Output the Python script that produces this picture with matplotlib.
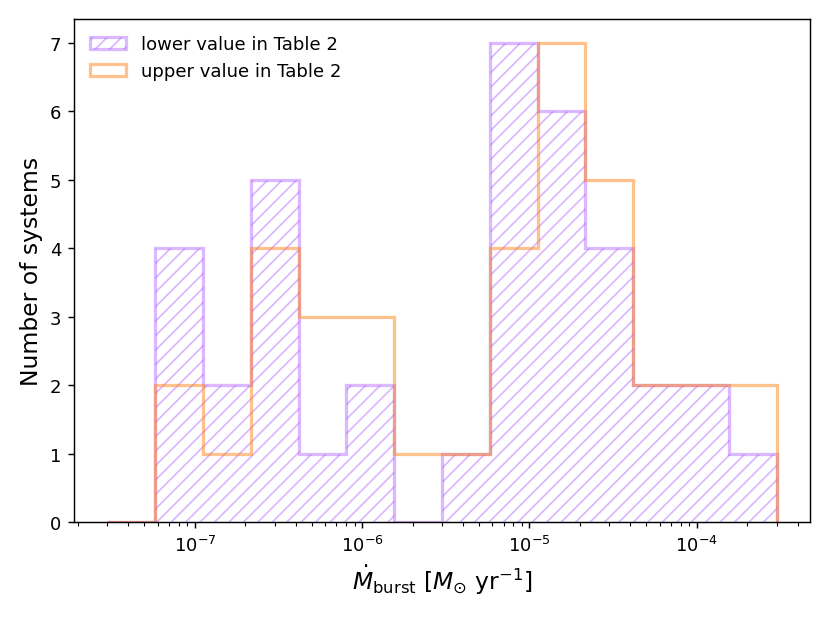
import matplotlib
matplotlib.use('Agg')
import matplotlib.pyplot as plt
import numpy as np

# log-spaced bin edges of the accretion rate histogram
bin_edges = [3.0e-8, 5.8e-8, 1.12e-7, 2.16e-7, 4.17e-7, 8.05e-7, 1.55e-6, 3.0e-6,
             5.8e-6, 1.12e-5, 2.16e-5, 4.17e-5, 8.05e-5, 1.55e-4, 3.0e-4]

# number of systems in each bin
lower_counts = [0, 4, 2, 5, 1, 2, 0, 1, 7, 6, 4, 2, 2, 1]
upper_counts = [0, 2, 1, 4, 3, 3, 1, 1, 4, 7, 5, 2, 2, 2]

edges = np.array(bin_edges)
centers = np.sqrt(edges[:-1] * edges[1:])

fig, ax = plt.subplots(figsize=(6.385, 4.792), dpi=130)
fig.subplots_adjust(left=0.089, right=0.976, top=0.968, bottom=0.1605)

ax.hist(centers, bins=edges, weights=lower_counts, histtype='step', hatch='///',
        color='#9933ff', alpha=0.34, linewidth=1.8, label='lower value in Table 2')
ax.hist(centers, bins=edges, weights=upper_counts, histtype='step',
        color='#ff7f0e', alpha=0.47, linewidth=1.8, label='upper value in Table 2')

ax.set_xscale('log')
ax.set_xlabel(r'$\dot{M}_{\rm burst}$ [$M_{\odot}$ yr$^{-1}$]', fontsize=13)
ax.set_ylabel('Number of systems', fontsize=13)

ax.legend(loc='upper left', frameon=False)

plt.savefig('out.png', dpi=130)
